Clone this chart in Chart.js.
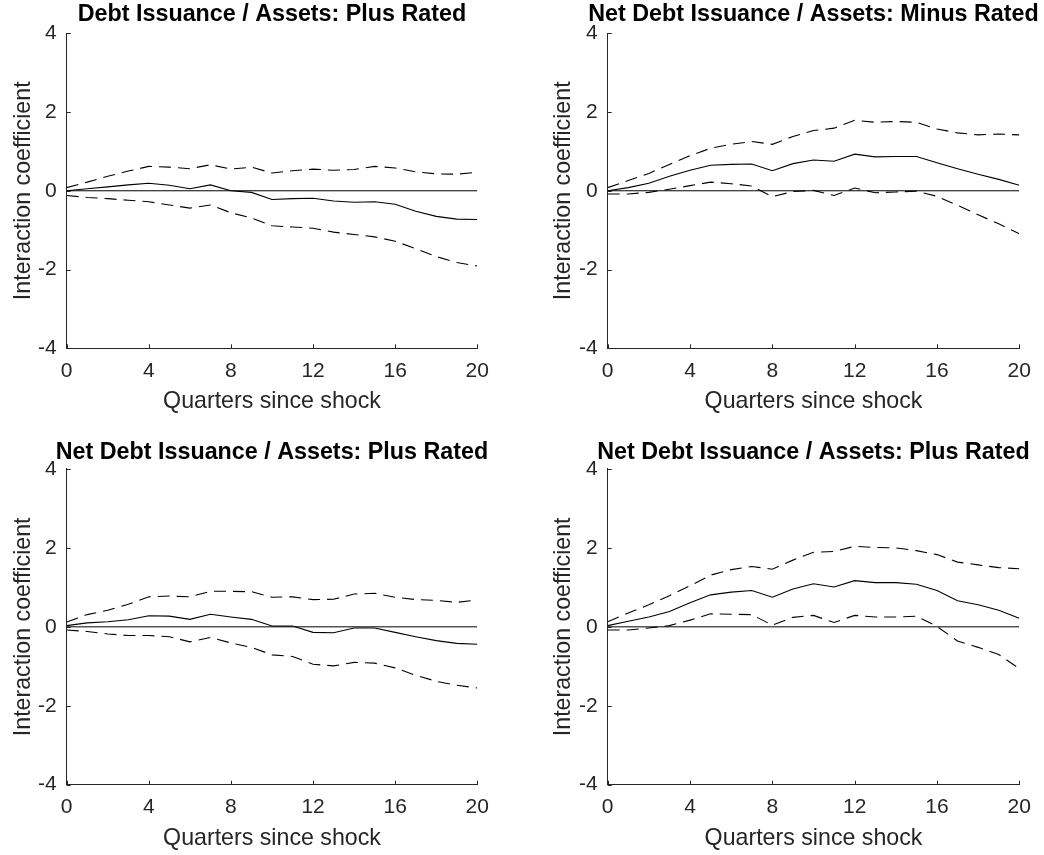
<!DOCTYPE html>
<html>
<head>
<meta charset="utf-8">
<script src="https://cdn.jsdelivr.net/npm/chart.js@4.4.1/dist/chart.umd.min.js"></script>
<style>
  html, body { margin: 0; padding: 0; background: #ffffff; overflow: hidden; width: 1044px; height: 855px; }
  canvas { position: absolute; }
</style>
</head>
<body>
<canvas id="c1" width="544" height="427" style="left:0px;top:0px;"></canvas>
<canvas id="c2" width="547" height="427" style="left:540px;top:0px;"></canvas>
<canvas id="c3" width="544" height="428" style="left:0px;top:427px;"></canvas>
<canvas id="c4" width="547" height="428" style="left:540px;top:427px;"></canvas>
<script>
// ---- data ----
const quarters = [0,1,2,3,4,5,6,7,8,9,10,11,12,13,14,15,16,17,18,19,20];
const xTicks = [0,4,8,12,16,20];
const yTicks = [-4,-2,0,2,4];
const zeroX = [0,20];
const zeroY = [0,0];

const titles = [
  "Debt Issuance / Assets: Plus Rated",
  "Net Debt Issuance / Assets: Minus Rated",
  "Net Debt Issuance / Assets: Plus Rated",
  "Net Debt Issuance / Assets: Plus Rated"
];
const xLabel = "Quarters since shock";
const yLabel = "Interaction coefficient";

const p1Mid = [0,0.05,0.1,0.15,0.19,0.14,0.05,0.15,0,-0.04,-0.22,-0.2,-0.19,-0.26,-0.29,-0.28,-0.34,-0.52,-0.65,-0.72,-0.73];
const p1Up  = [0.08,0.22,0.37,0.5,0.62,0.6,0.56,0.66,0.55,0.6,0.45,0.51,0.55,0.52,0.54,0.62,0.58,0.48,0.43,0.42,0.47];
const p1Lo  = [-0.12,-0.17,-0.2,-0.24,-0.28,-0.36,-0.44,-0.36,-0.56,-0.69,-0.89,-0.92,-0.95,-1.05,-1.11,-1.17,-1.28,-1.47,-1.67,-1.82,-1.91];

const p2Mid = [0,0.08,0.19,0.37,0.52,0.65,0.67,0.68,0.51,0.69,0.78,0.75,0.93,0.86,0.87,0.87,0.71,0.56,0.42,0.29,0.14];
const p2Up  = [0.08,0.26,0.44,0.67,0.89,1.08,1.18,1.25,1.18,1.38,1.53,1.59,1.79,1.74,1.76,1.74,1.57,1.47,1.42,1.44,1.42];
const p2Lo  = [-0.08,-0.08,-0.04,0.04,0.13,0.22,0.18,0.12,-0.15,-0.02,0.01,-0.12,0.07,-0.05,-0.03,-0.01,-0.14,-0.37,-0.61,-0.84,-1.09];

const p3Mid = [0.03,0.1,0.13,0.18,0.28,0.27,0.19,0.32,0.25,0.19,0.02,0.02,-0.14,-0.15,-0.03,-0.03,-0.14,-0.25,-0.35,-0.42,-0.44];
const p3Up  = [0.12,0.31,0.42,0.57,0.76,0.78,0.76,0.9,0.9,0.89,0.75,0.76,0.69,0.7,0.83,0.85,0.75,0.69,0.67,0.62,0.68];
const p3Lo  = [-0.08,-0.12,-0.18,-0.22,-0.22,-0.25,-0.38,-0.27,-0.41,-0.52,-0.71,-0.75,-0.95,-0.99,-0.9,-0.92,-1.04,-1.23,-1.38,-1.48,-1.55];

const p4Mid = [0.03,0.14,0.25,0.39,0.61,0.81,0.88,0.92,0.75,0.96,1.09,1.01,1.17,1.12,1.12,1.08,0.92,0.66,0.56,0.42,0.22];
const p4Up  = [0.13,0.35,0.56,0.79,1.04,1.31,1.45,1.53,1.46,1.69,1.89,1.91,2.04,2.01,2.0,1.93,1.83,1.64,1.57,1.5,1.47];
const p4Lo  = [-0.08,-0.08,-0.03,0.03,0.17,0.33,0.32,0.31,0.04,0.24,0.29,0.11,0.29,0.25,0.25,0.27,0.01,-0.36,-0.52,-0.7,-1.06];

// ---- drawing ----
const FONT = "'Liberation Sans', Arial, Helvetica, sans-serif";
const AXIS_COLOR = '#262626';

const inwardTicks = {
  id: 'inwardTicks',
  afterDraw(chart) {
    const {ctx, chartArea, scales} = chart;
    const x = scales.x, y = scales.y;
    ctx.save();
    ctx.strokeStyle = AXIS_COLOR;
    ctx.lineWidth = 1;
    ctx.beginPath();
    x.ticks.forEach(t => {
      const px = Math.round(x.getPixelForValue(t.value)) + 0.5;
      ctx.moveTo(px, chartArea.bottom);
      ctx.lineTo(px, chartArea.bottom - 4);
    });
    y.ticks.forEach(t => {
      const py = Math.round(y.getPixelForValue(t.value)) + 0.5;
      ctx.moveTo(chartArea.left, py);
      ctx.lineTo(chartArea.left + 4, py);
    });
    ctx.stroke();
    ctx.restore();
  }
};

function pts(arr) { return quarters.map((q, i) => ({x: q, y: arr[i]})); }

function makeChart(id, title, mid, up, lo, cfg) {
  const zero = zeroX.map((v, i) => ({x: v, y: zeroY[i]}));
  new Chart(document.getElementById(id), {
    type: 'line',
    data: {
      datasets: [
        {data: zero, borderColor: '#000', borderWidth: 1, pointRadius: 0},
        {data: pts(mid), borderColor: '#000', borderWidth: 1.1, pointRadius: 0},
        {data: pts(up), borderColor: '#000', borderWidth: 1.1, borderDash: [12, 7], pointRadius: 0},
        {data: pts(lo), borderColor: '#000', borderWidth: 1.1, borderDash: [12, 7], pointRadius: 0}
      ]
    },
    options: {
      responsive: false,
      animation: false,
      events: [],
      layout: {padding: cfg.padding},
      elements: {line: {tension: 0}},
      plugins: {
        legend: {display: false},
        tooltip: {enabled: false},
        title: {
          display: true,
          text: title,
          color: '#000',
          font: {family: FONT, size: 23.3, weight: 'bold', lineHeight: 1.2},
          padding: cfg.titlePad
        }
      },
      scales: {
        x: {
          type: 'linear',
          min: 0, max: 20,
          afterBuildTicks: s => { s.ticks = xTicks.map(v => ({value: v})); },
          afterFit: s => { s.height = 70; },
          grid: {display: false, drawTicks: false},
          border: {display: true, color: AXIS_COLOR, width: 1},
          ticks: {color: AXIS_COLOR, padding: 10.4, font: {family: FONT, size: 21, lineHeight: 1.2}, maxRotation: 0},
          title: {display: true, text: xLabel, color: AXIS_COLOR,
                  font: {family: FONT, size: 23.2, lineHeight: 1.2}, padding: {top: 0, bottom: 2.6}}
        },
        y: {
          type: 'linear',
          position: 'left',
          min: -4, max: 4,
          afterBuildTicks: s => { s.ticks = yTicks.map(v => ({value: v})); },
          afterFit: s => { s.width = cfg.yWidth; },
          grid: {display: false, drawTicks: false},
          border: {display: true, color: AXIS_COLOR, width: 1},
          ticks: {color: AXIS_COLOR, padding: 10, font: {family: FONT, size: 21, lineHeight: 1.2}},
          title: {display: true, text: yLabel, color: AXIS_COLOR,
                  font: {family: FONT, size: 23.2, lineHeight: 1.2}, padding: {top: 10, bottom: 0}}
        },
        yr: {
          type: 'linear',
          position: 'right',
          min: -4, max: 4,
          afterFit: s => { s.width = cfg.yWidth; },
          grid: {display: false, drawTicks: false},
          border: {display: false},
          ticks: {display: false}
        }
      }
    },
    plugins: [inwardTicks]
  });
}

makeChart('c1', titles[0], p1Mid, p1Up, p1Lo,
  {padding: {left: 0, right: 0, top: 0, bottom: 8.7}, yWidth: 66.7, titlePad: {top: 1, bottom: 4.3}});
makeChart('c2', titles[1], p2Mid, p2Up, p2Lo,
  {padding: {left: 0, right: 0, top: 0, bottom: 8.7}, yWidth: 67.7, titlePad: {top: 1, bottom: 4.3}});
makeChart('c3', titles[2], p3Mid, p3Up, p3Lo,
  {padding: {left: 0, right: 0, top: 0, bottom: 0.3}, yWidth: 66.7, titlePad: {top: 11.5, bottom: 2.5}});
makeChart('c4', titles[3], p4Mid, p4Up, p4Lo,
  {padding: {left: 0, right: 0, top: 0, bottom: 0.3}, yWidth: 67.7, titlePad: {top: 11.5, bottom: 2.5}});
</script>
</body>
</html>
